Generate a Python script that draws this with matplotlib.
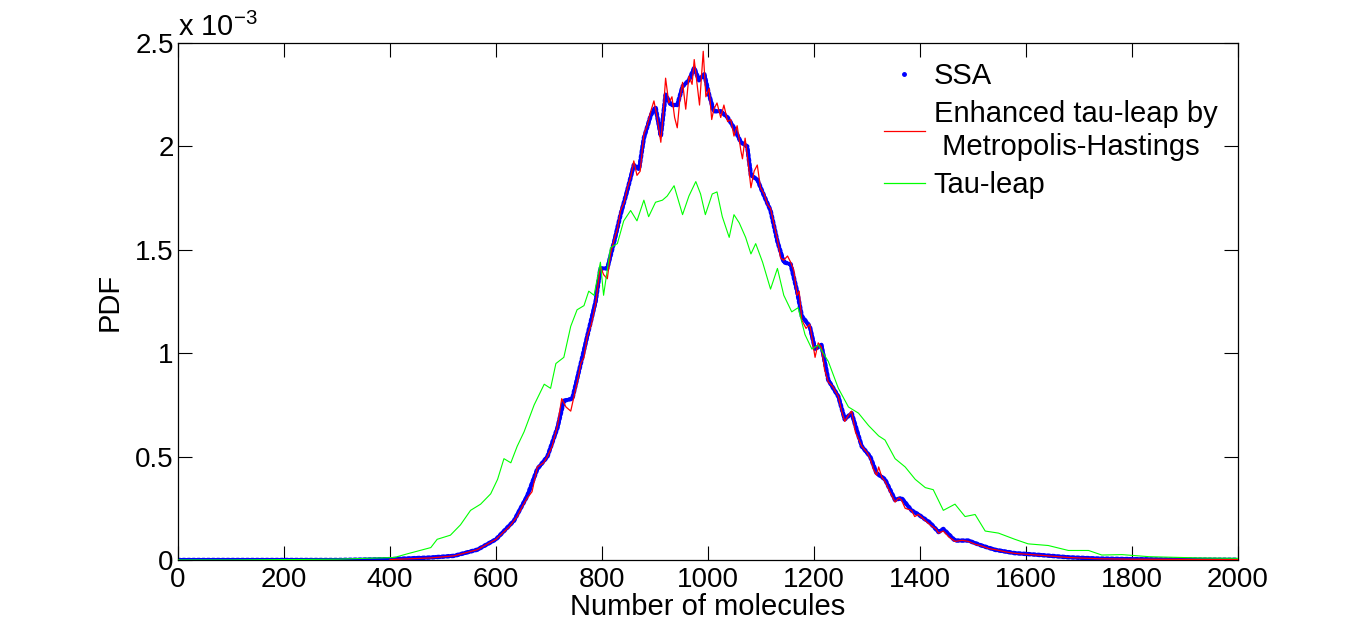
import matplotlib
matplotlib.use("Agg")
import matplotlib.pyplot as plt
from matplotlib.lines import Line2D

plt.rcParams['font.family'] = ['Liberation Sans', 'DejaVu Sans']
plt.rcParams['mathtext.fontset'] = 'custom'
plt.rcParams['mathtext.rm'] = 'Liberation Sans'
plt.rcParams['mathtext.it'] = 'Liberation Sans:italic'

# SSA (values in units of 1e-3)
ssa_n = [0, 100, 200, 300, 400, 477, 521, 565, 600, 634, 659, 678, 697, 716, 728, 744,
         760, 772, 788, 797, 810, 823, 835, 848, 860, 870, 879, 892, 901, 911, 920, 930,
         942, 952, 964, 974, 983, 993, 1002, 1011, 1024, 1037, 1049, 1062, 1074, 1081,
         1093, 1106, 1118, 1131, 1143, 1156, 1168, 1177, 1192, 1202, 1214, 1227, 1246,
         1258, 1271, 1290, 1306, 1318, 1334, 1353, 1365, 1384, 1397, 1419, 1435, 1444,
         1466, 1491, 1516, 1542, 1579, 1617, 1642, 1680, 1736, 1800, 1900, 2000]
ssa_pdf = [0.0, 0.0, 0.0, 0.0, 0.004, 0.012, 0.02, 0.05, 0.10, 0.19, 0.31, 0.44, 0.50,
           0.64, 0.77, 0.78, 0.95, 1.08, 1.25, 1.41, 1.41, 1.54, 1.67, 1.79, 1.91, 1.89,
           2.04, 2.15, 2.19, 2.05, 2.25, 2.20, 2.20, 2.29, 2.32, 2.38, 2.32, 2.35, 2.25,
           2.17, 2.17, 2.14, 2.09, 2.02, 2.00, 1.86, 1.84, 1.76, 1.69, 1.54, 1.44, 1.43,
           1.30, 1.18, 1.13, 1.02, 1.04, 0.87, 0.79, 0.68, 0.71, 0.55, 0.50, 0.42, 0.39,
           0.29, 0.30, 0.24, 0.22, 0.18, 0.135, 0.15, 0.094, 0.094, 0.07, 0.049, 0.033,
           0.026, 0.021, 0.013, 0.007, 0.004, 0.002, 0.001]

# Enhanced tau-leap by Metropolis-Hastings
mh_n = [400, 477, 521, 565, 600, 625, 640, 650, 659, 668, 678, 690, 697, 706, 716, 724,
        732, 741, 748, 755, 760, 766, 772, 780, 788, 797, 803, 810, 816, 823, 829, 835,
        842, 848, 854, 860, 866, 872, 879, 885, 892, 898, 904, 911, 916, 920, 926, 932,
        937, 942, 947, 952, 958, 964, 970, 974, 979, 984, 988, 991, 996, 1002, 1007,
        1011, 1017, 1024, 1030, 1037, 1043, 1049, 1055, 1062, 1065, 1070, 1074, 1081,
        1087, 1093, 1099, 1106, 1112, 1118, 1125, 1131, 1137, 1143, 1150, 1156, 1162,
        1168, 1172, 1177, 1185, 1192, 1197, 1202, 1208, 1214, 1220, 1227, 1235, 1246,
        1252, 1258, 1265, 1271, 1278, 1290, 1300, 1306, 1312, 1318, 1322, 1328, 1334,
        1343, 1353, 1360, 1365, 1372, 1384, 1390, 1397, 1410, 1419, 1430, 1435, 1444,
        1455, 1466, 1480, 1491, 1505, 1516, 1530, 1542, 1560, 1579, 1600, 1617, 1642,
        1680, 1736, 1800, 1900, 2000]
mh_pdf = [0.002, 0.01, 0.02, 0.05, 0.10, 0.16, 0.21, 0.26, 0.30, 0.33, 0.45, 0.47, 0.50,
          0.55, 0.65, 0.78, 0.74, 0.72, 0.80, 0.88, 0.95, 0.98, 1.08, 1.14, 1.24, 1.42,
          1.38, 1.36, 1.48, 1.55, 1.60, 1.69, 1.73, 1.80, 1.85, 1.93, 1.86, 1.88, 2.06,
          2.10, 2.17, 2.22, 2.14, 2.02, 2.18, 2.33, 2.21, 2.24, 2.14, 2.09, 2.23, 2.31,
          2.18, 2.34, 2.30, 2.42, 2.31, 2.20, 2.35, 2.46, 2.24, 2.28, 2.13, 2.18, 2.21,
          2.14, 2.20, 2.12, 2.13, 2.05, 2.10, 1.98, 1.94, 2.04, 1.96, 1.80, 1.88, 1.91,
          1.80, 1.77, 1.72, 1.70, 1.62, 1.55, 1.46, 1.45, 1.47, 1.44, 1.40, 1.28, 1.30,
          1.16, 1.12, 1.14, 1.06, 0.98, 1.05, 1.03, 0.92, 0.86, 0.84, 0.79, 0.72, 0.67,
          0.70, 0.72, 0.62, 0.55, 0.52, 0.49, 0.44, 0.41, 0.45, 0.40, 0.38, 0.33, 0.28,
          0.30, 0.29, 0.25, 0.24, 0.21, 0.22, 0.19, 0.17, 0.15, 0.13, 0.14, 0.11, 0.09,
          0.095, 0.09, 0.075, 0.068, 0.055, 0.05, 0.04, 0.032, 0.028, 0.025, 0.02,
          0.012, 0.006, 0.004, 0.003, 0.002]

# Tau-leap
tau_n = [0, 100, 200, 300, 382, 408, 433, 477, 489, 514, 533, 552, 571, 590, 603, 615,
         628, 640, 653, 672, 691, 703, 713, 728, 741, 753, 766, 775, 785, 797, 803, 816,
         829, 841, 854, 866, 879, 888, 901, 914, 923, 936, 952, 964, 977, 986, 995, 1008,
         1017, 1027, 1040, 1049, 1059, 1071, 1081, 1090, 1103, 1118, 1131, 1143, 1158,
         1170, 1183, 1196, 1208, 1227, 1246, 1265, 1284, 1303, 1322, 1334, 1353, 1372,
         1391, 1410, 1425, 1444, 1466, 1485, 1504, 1523, 1548, 1579, 1604, 1642, 1680,
         1718, 1743, 1781, 1832, 1926, 2000]
tau_pdf = [0.0, 0.0, 0.002, 0.004, 0.01, 0.012, 0.03, 0.06, 0.10, 0.12, 0.17, 0.24, 0.27,
           0.32, 0.39, 0.49, 0.47, 0.55, 0.62, 0.75, 0.85, 0.83, 0.95, 0.98, 1.13, 1.21,
           1.23, 1.30, 1.28, 1.44, 1.28, 1.51, 1.53, 1.64, 1.69, 1.64, 1.74, 1.66, 1.73,
           1.74, 1.76, 1.81, 1.67, 1.76, 1.83, 1.77, 1.67, 1.77, 1.78, 1.66, 1.56, 1.67,
           1.63, 1.56, 1.48, 1.53, 1.44, 1.31, 1.41, 1.28, 1.20, 1.22, 1.09, 1.02, 1.04,
           0.96, 0.83, 0.74, 0.71, 0.65, 0.60, 0.58, 0.49, 0.45, 0.39, 0.35, 0.34, 0.24,
           0.27, 0.21, 0.22, 0.14, 0.13, 0.10, 0.078, 0.07, 0.046, 0.046, 0.024, 0.026,
           0.016, 0.01, 0.008]

fig = plt.figure(figsize=(13.66, 6.28), dpi=100)
ax = fig.add_axes([0.1303, 0.1083, 0.7760, 0.8232])

ax.plot(ssa_n, ssa_pdf, color='#0000ff', lw=3.2, ls=(0, (0.5, 0.6)),
        dash_capstyle='round', zorder=2)
ax.plot(mh_n, mh_pdf, color='#ff0000', lw=0.9, zorder=3)
ax.plot(tau_n, tau_pdf, color='#00ff00', lw=0.8, zorder=4)

ax.set_xlim(0, 2000)
ax.set_ylim(0, 2.5)
ax.set_xticks(range(0, 2001, 200))
ax.set_yticks([0, 0.5, 1, 1.5, 2, 2.5])
ax.set_yticklabels(['0', '0.5', '1', '1.5', '2', '2.5'])
ax.tick_params(direction='in', length=10, width=0.8, labelsize=20,
               top=True, right=True, pad=3)
ax.tick_params(axis='x', pad=5)
for s in ax.spines.values():
    s.set_linewidth(0.9)

ax.set_xlabel('Number of molecules', fontsize=21, labelpad=0)
ax.set_ylabel('PDF', fontsize=21, labelpad=8)
ax.text(0.0, 1.002, r'x 10$^{-3}$', transform=ax.transAxes, fontsize=21,
        ha='left', va='bottom')

handles = [
    Line2D([], [], color='#0000ff', marker='.', ms=5, ls='none'),
    Line2D([], [], color='#ff0000', lw=0.9),
    Line2D([], [], color='#00ff00', lw=0.9),
]
labels = ['SSA', 'Enhanced tau-leap by\n Metropolis-Hastings', 'Tau-leap']
ax.legend(handles, labels, loc='upper right', bbox_to_anchor=(0.997, 0.997),
          frameon=False, fontsize=21, handlelength=1.4, handletextpad=0.3,
          labelspacing=0.35, borderaxespad=0.2)

fig.savefig('out.png', dpi=100)
